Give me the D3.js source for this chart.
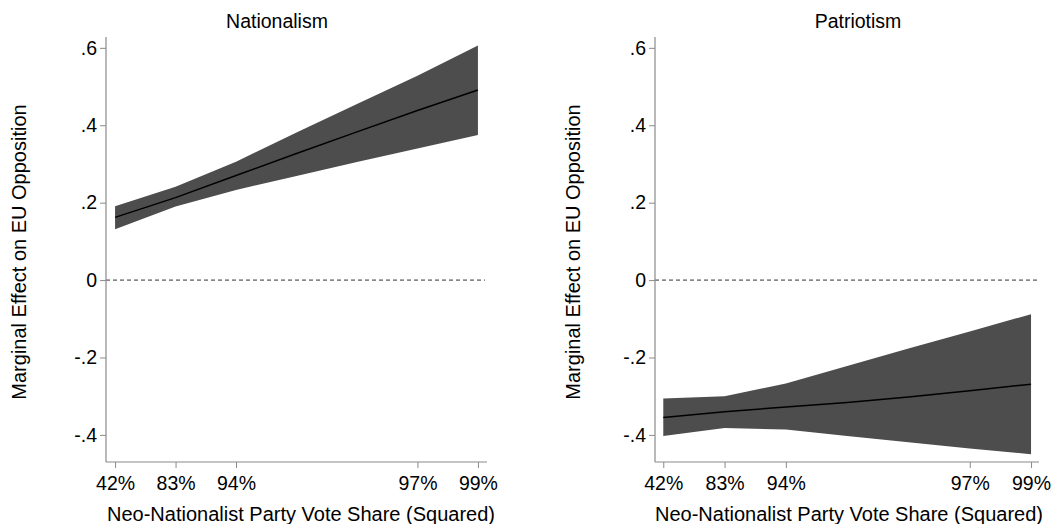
<!DOCTYPE html>
<html>
<head>
<meta charset="utf-8">
<script src="https://cdn.jsdelivr.net/npm/d3@7"></script>
<style>
  html, body { margin: 0; padding: 0; background: #fff; }
  svg { display: block; font-family: "Liberation Sans", Arial, sans-serif; }
</style>
</head>
<body>
<svg id="chart" width="1055" height="524"></svg>
<script>
// Evaluation points along the (squared) vote-share scale
const xPos = [0, 1, 2, 3, 4, 5, 6];

// Nationalism: marginal effect with 95% bounds
const natEst = [0.162, 0.213, 0.270, 0.327, 0.383, 0.438, 0.491];
const natLo  = [0.131, 0.190, 0.233, 0.269, 0.305, 0.340, 0.375];
const natHi  = [0.191, 0.241, 0.306, 0.381, 0.455, 0.528, 0.606];

// Patriotism: marginal effect with 95% bounds
const patEst = [-0.355, -0.340, -0.328, -0.316, -0.302, -0.286, -0.269];
const patLo  = [-0.403, -0.382, -0.386, -0.403, -0.419, -0.435, -0.450];
const patHi  = [-0.306, -0.300, -0.267, -0.222, -0.177, -0.133, -0.088];

// Axis ticks
const xTickPos    = [0, 1, 2, 5, 6];
const xTickLabels = ["42%", "83%", "94%", "97%", "99%"];
const yTickVals   = [-0.4, -0.2, 0, 0.2, 0.4, 0.6];
const yTickLabels = ["-.4", "-.2", "0", ".2", ".4", ".6"];

const panelTitles = ["Nationalism", "Patriotism"];
const xTitle = "Neo-Nationalist Party Vote Share (Squared)";
const yTitle = "Marginal Effect on EU Opposition";

const svg = d3.select("#chart");

const panels = [
  { title: panelTitles[0], est: natEst, lo: natLo, hi: natHi,
    left: 106, right: 487, xDom: [-0.15, 6.15], titleX: 277, xTitleX: 301, yTitleX: 26 },
  { title: panelTitles[1], est: patEst, lo: patLo, hi: patHi,
    left: 655, right: 1039, xDom: [-0.135, 6.13], titleX: 858, xTitleX: 849, yTitleX: 580 }
];

const plotTop = 37, plotBottom = 462;
const axisColor = "#8a8a8a";

panels.forEach(p => {
  const x = d3.scaleLinear().domain(p.xDom).range([p.left, p.right]);
  const y = d3.scaleLinear().domain([-0.47, 0.628]).range([plotBottom, plotTop]);
  const g = svg.append("g");

  const rows = xPos.map((v, i) => ({ x: v, est: p.est[i], lo: p.lo[i], hi: p.hi[i] }));

  // confidence band
  g.append("path")
    .datum(rows)
    .attr("fill", "#4d4d4d")
    .attr("d", d3.area().x(d => x(d.x)).y0(d => y(d.lo)).y1(d => y(d.hi)));

  // point estimate
  g.append("path")
    .datum(rows)
    .attr("fill", "none")
    .attr("stroke", "#000")
    .attr("stroke-width", 1.5)
    .attr("d", d3.line().x(d => x(d.x)).y(d => y(d.est)));

  // zero reference line
  g.append("line")
    .attr("x1", p.left).attr("x2", p.right - 2)
    .attr("y1", y(0)).attr("y2", y(0))
    .attr("stroke", "#333")
    .attr("stroke-width", 1)
    .attr("stroke-dasharray", "4,3");

  // y axis
  const yAxis = g.append("g")
    .attr("transform", `translate(${p.left},0)`)
    .call(d3.axisLeft(y).tickValues(yTickVals)
      .tickFormat((d, i) => yTickLabels[i]).tickSize(6).tickPadding(3));

  // x axis
  const xAxis = g.append("g")
    .attr("transform", `translate(0,${plotBottom})`)
    .call(d3.axisBottom(x).tickValues(xTickPos)
      .tickFormat((d, i) => xTickLabels[i]).tickSize(6).tickPadding(8));

  [yAxis, xAxis].forEach(a => {
    a.select(".domain").remove();
    a.selectAll(".tick line").attr("stroke", axisColor);
    a.selectAll(".tick text").attr("fill", "#000")
      .style("font-size", "19.5px").style("font-family", "'Liberation Sans', Arial, sans-serif");
  });

  // axis lines spanning the plot region
  g.append("line").attr("x1", p.left).attr("x2", p.left)
    .attr("y1", plotTop).attr("y2", plotBottom).attr("stroke", axisColor).attr("stroke-width", 1.2);
  g.append("line").attr("x1", p.left).attr("x2", p.right)
    .attr("y1", plotBottom).attr("y2", plotBottom).attr("stroke", axisColor).attr("stroke-width", 1.2);

  // titles
  g.append("text").attr("x", p.titleX).attr("y", 28)
    .attr("text-anchor", "middle").style("font-size", "19.5px").text(p.title);
  g.append("text").attr("x", p.xTitleX).attr("y", 521)
    .attr("text-anchor", "middle").style("font-size", "20px").text(xTitle);
  g.append("text")
    .attr("transform", `translate(${p.yTitleX},252) rotate(-90)`)
    .attr("text-anchor", "middle").style("font-size", "20px").text(yTitle);
});
</script>
</body>
</html>
